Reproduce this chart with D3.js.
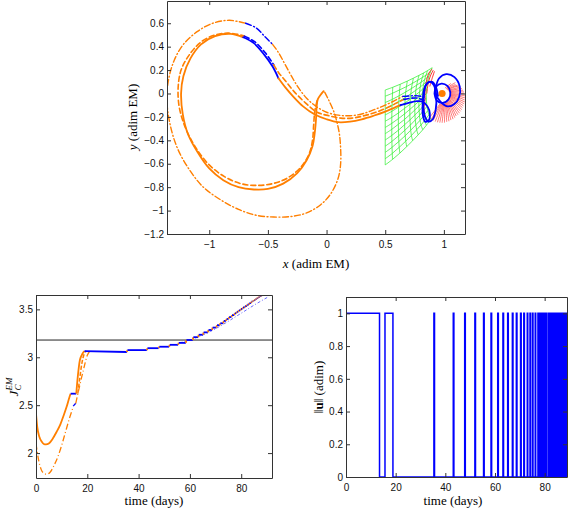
<!DOCTYPE html>
<html><head><meta charset="utf-8">
<script src="https://cdn.jsdelivr.net/npm/d3@7"></script>
<style>body{margin:0;background:#fff}svg{display:block}</style>
</head><body>
<svg id="chart" width="568" height="510"></svg>
<script>
// ---------- tick values ----------
const topXTicks = [-1, -0.5, 0, 0.5, 1];
const topYTicks = [-1.2, -1, -0.8, -0.6, -0.4, -0.2, 0, 0.2, 0.4, 0.6];
const dayTicks = [0, 20, 40, 60, 80];
const jTicks = [2, 2.5, 3, 3.5];
const uTicks = [0, 0.2, 0.4, 0.6, 0.8, 1];

// ---------- top plot: trajectories (x, y in adim EM) ----------
const solidThrust1 = [[-0.025,0.02],[-0.05,-0.01],[-0.075,-0.05],[-0.085,-0.12],[-0.09,-0.22],[-0.1,-0.33],[-0.12,-0.45],[-0.17,-0.57],[-0.25,-0.68],[-0.37,-0.77],[-0.5,-0.815],[-0.62,-0.82],[-0.75,-0.8],[-0.88,-0.74],[-1.0,-0.64],[-1.1,-0.5],[-1.18,-0.35],[-1.225,-0.18],[-1.24,0.0],[-1.22,0.15],[-1.16,0.3],[-1.07,0.42],[-0.95,0.49],[-0.82,0.51],[-0.71,0.48]];
const solidCoast1 = [[-0.71,0.48],[-0.62,0.43],[-0.53,0.33],[-0.46,0.23],[-0.41,0.13]];
const solidThrust2 = [[-0.41,0.13],[-0.35,0.05],[-0.28,-0.03],[-0.2,-0.11],[-0.1,-0.18],[0.0,-0.22],[0.1,-0.245],[0.2,-0.24],[0.3,-0.22],[0.4,-0.19],[0.5,-0.155],[0.58,-0.12],[0.63,-0.1]];
const solidCoast2 = [[0.63,-0.1],[0.7,-0.08],[0.77,-0.065],[0.82,-0.07],[0.86,-0.11],[0.88,-0.17],[0.87,-0.23],[0.84,-0.24],[0.82,-0.18],[0.82,-0.08],[0.83,0.03],[0.86,0.09],[0.9,0.1],[0.93,0.06],[0.95,-0.02]];

const dashThrust1 = [[-0.08,-0.06],[-0.1,-0.15],[-0.11,-0.27],[-0.12,-0.4],[-0.15,-0.52],[-0.22,-0.63],[-0.33,-0.72],[-0.46,-0.77],[-0.6,-0.785],[-0.73,-0.77],[-0.87,-0.71],[-1.0,-0.61],[-1.11,-0.47],[-1.2,-0.3],[-1.255,-0.12],[-1.265,0.05],[-1.24,0.2],[-1.17,0.33],[-1.07,0.44],[-0.95,0.5],[-0.82,0.515],[-0.7,0.49]];
const dashCoast1 = [[-0.7,0.49],[-0.61,0.44],[-0.52,0.345],[-0.45,0.245]];
const dashThrust2 = [[-0.45,0.245],[-0.41,0.18],[-0.36,0.12],[-0.28,0.02],[-0.18,-0.08],[-0.08,-0.16],[0.02,-0.19],[0.12,-0.21],[0.22,-0.21],[0.32,-0.19],[0.42,-0.16],[0.52,-0.12],[0.6,-0.08],[0.66,-0.05]];
const dashCoast2 = [[0.66,-0.05],[0.72,-0.04],[0.78,-0.04],[0.83,-0.06]];

const ddThrust1 = [[-0.015,0.01],[0.02,-0.06],[0.06,-0.15],[0.09,-0.25],[0.11,-0.35],[0.12,-0.47],[0.12,-0.6],[0.1,-0.72],[0.04,-0.85],[-0.05,-0.95],[-0.17,-1.02],[-0.3,-1.05],[-0.45,-1.055],[-0.6,-1.04],[-0.75,-0.99],[-0.9,-0.91],[-1.05,-0.8],[-1.17,-0.65],[-1.27,-0.47],[-1.33,-0.28],[-1.36,-0.08],[-1.35,0.1],[-1.3,0.28],[-1.22,0.42],[-1.1,0.53],[-0.97,0.6],[-0.83,0.625],[-0.69,0.6]];
const ddCoast1 = [[-0.69,0.6],[-0.6,0.56],[-0.52,0.48],[-0.46,0.42]];
const ddThrust2 = [[-0.46,0.42],[-0.41,0.35],[-0.36,0.26],[-0.3,0.15],[-0.24,0.05],[-0.17,-0.04],[-0.09,-0.11],[0.0,-0.16],[0.1,-0.185],[0.2,-0.19],[0.3,-0.175],[0.4,-0.14],[0.5,-0.1],[0.58,-0.06],[0.65,-0.025]];
const ddCoast2 = [[0.65,-0.025],[0.72,-0.02],[0.78,-0.02],[0.83,-0.03]];

const blueLoopLeft = [[0.83,-0.02],[0.845,0.07],[0.88,0.1],[0.915,0.07],[0.935,-0.03],[0.93,-0.14],[0.905,-0.22],[0.87,-0.24],[0.84,-0.2],[0.825,-0.11],[0.83,-0.02]];
const blueLoopRight = [[0.93,0.05],[0.96,0.13],[1.02,0.165],[1.09,0.14],[1.135,0.06],[1.13,-0.03],[1.09,-0.09],[1.03,-0.11],[0.97,-0.07],[0.93,0.0],[0.93,0.05]];
const blueLoopMoon = [[0.92,0.0],[0.935,0.06],[0.98,0.085],[1.03,0.065],[1.055,0.01],[1.04,-0.05],[0.99,-0.08],[0.94,-0.06],[0.92,0.0]];
const moonPoint = [0.985, 0.0];

// green mesh: rows of nodes (x, y)
const greenRows = [
  [[0.5,0.03],[0.564,0.053],[0.628,0.079],[0.688,0.106],[0.74,0.131],[0.788,0.155],[0.828,0.176],[0.86,0.195],[0.9,0.22]],
  [[0.5,-0.023],[0.562,0.002],[0.623,0.031],[0.681,0.059],[0.731,0.086],[0.777,0.113],[0.816,0.136],[0.847,0.156],[0.885,0.183]],
  [[0.5,-0.077],[0.56,-0.05],[0.619,-0.019],[0.675,0.013],[0.723,0.042],[0.768,0.071],[0.805,0.095],[0.835,0.118],[0.872,0.147]],
  [[0.5,-0.13],[0.558,-0.101],[0.616,-0.068],[0.671,-0.034],[0.718,-0.003],[0.761,0.028],[0.798,0.055],[0.827,0.079],[0.863,0.11]],
  [[0.5,-0.183],[0.557,-0.152],[0.614,-0.116],[0.668,-0.081],[0.714,-0.047],[0.757,-0.014],[0.793,0.014],[0.821,0.04],[0.857,0.073]],
  [[0.5,-0.237],[0.556,-0.204],[0.613,-0.166],[0.665,-0.127],[0.711,-0.092],[0.753,-0.056],[0.789,-0.026],[0.817,0.001],[0.852,0.037]],
  [[0.5,-0.29],[0.556,-0.255],[0.612,-0.215],[0.665,-0.174],[0.71,-0.136],[0.752,-0.099],[0.787,-0.067],[0.815,-0.038],[0.85,0.0]],
  [[0.5,-0.343],[0.556,-0.306],[0.612,-0.263],[0.665,-0.221],[0.71,-0.181],[0.752,-0.141],[0.787,-0.107],[0.815,-0.077],[0.85,-0.037]],
  [[0.5,-0.397],[0.556,-0.358],[0.613,-0.313],[0.665,-0.267],[0.711,-0.225],[0.753,-0.183],[0.789,-0.148],[0.817,-0.115],[0.852,-0.073]],
  [[0.5,-0.45],[0.557,-0.409],[0.614,-0.362],[0.667,-0.314],[0.714,-0.27],[0.756,-0.226],[0.792,-0.188],[0.82,-0.154],[0.856,-0.11]],
  [[0.5,-0.503],[0.558,-0.46],[0.616,-0.41],[0.67,-0.361],[0.717,-0.314],[0.761,-0.268],[0.797,-0.229],[0.826,-0.193],[0.862,-0.147]],
  [[0.5,-0.557],[0.56,-0.512],[0.619,-0.46],[0.675,-0.407],[0.723,-0.359],[0.768,-0.31],[0.805,-0.269],[0.835,-0.232],[0.872,-0.183]],
  [[0.5,-0.61],[0.562,-0.563],[0.625,-0.509],[0.683,-0.454],[0.734,-0.403],[0.781,-0.353],[0.82,-0.31],[0.851,-0.271],[0.89,-0.22]]
];

// red fan around the Moon: [start, middle, end]
const redRays = [
  [[1.009,0.046],[1.035,0.067],[1.06,0.086]],
  [[1.02,0.041],[1.062,0.072],[1.098,0.093]],
  [[1.025,0.037],[1.07,0.065],[1.10,0.076]],
  [[1.03,0.034],[1.077,0.057],[1.116,0.072]],
  [[1.034,0.03],[1.091,0.055],[1.132,0.065]],
  [[1.039,0.025],[1.093,0.043],[1.144,0.054]],
  [[1.042,0.02],[1.103,0.035],[1.154,0.042]],
  [[1.046,0.015],[1.107,0.024],[1.164,0.028]],
  [[1.048,0.01],[1.111,0.014],[1.172,0.013]],
  [[1.051,0.004],[1.113,0.003],[1.174,-0.003]],
  [[1.053,-0.002],[1.115,-0.009],[1.18,-0.02]],
  [[1.054,-0.008],[1.115,-0.02],[1.179,-0.037]],
  [[1.055,-0.014],[1.115,-0.031],[1.177,-0.054]],
  [[1.055,-0.02],[1.113,-0.043],[1.178,-0.072]],
  [[1.055,-0.026],[1.111,-0.054],[1.173,-0.088]],
  [[1.054,-0.032],[1.107,-0.064],[1.166,-0.105]],
  [[1.053,-0.038],[1.103,-0.075],[1.158,-0.12]],
  [[1.051,-0.044],[1.098,-0.085],[1.153,-0.138]],
  [[1.048,-0.05],[1.091,-0.095],[1.142,-0.152]],
  [[1.046,-0.055],[1.085,-0.104],[1.133,-0.168]],
  [[1.042,-0.06],[1.077,-0.112],[1.12,-0.181]],
  [[1.039,-0.065],[1.069,-0.12],[1.105,-0.192]],
  [[1.034,-0.069],[1.06,-0.126],[1.093,-0.206]],
  [[1.03,-0.074],[1.05,-0.133],[1.078,-0.219]],
  [[1.025,-0.077],[1.04,-0.138],[1.06,-0.227]],
  [[1.02,-0.081],[1.029,-0.142],[1.043,-0.237]],
  [[1.015,-0.083],[1.019,-0.146],[1.024,-0.242]],
  [[1.009,-0.086],[1.008,-0.148],[1.005,-0.249]],
  [[1.003,-0.088],[0.996,-0.15],[0.985,-0.25]],
  [[0.997,-0.089],[0.985,-0.15],[0.965,-0.249]],
  [[0.991,-0.09],[0.974,-0.15],[0.945,-0.246]],
  [[0.985,-0.09],[0.962,-0.148],[0.926,-0.24]],
  [[0.979,-0.09],[0.951,-0.146],[0.908,-0.231]],
  [[0.973,-0.089],[0.941,-0.142],[0.892,-0.219]],
  [[0.967,-0.088],[0.93,-0.138],[0.88,-0.202]]
];
const redBand = [
  [[0.9,0.21],[0.87,0.17],[0.85,0.1],[0.84,0.02],[0.84,-0.06]],
  [[0.91,0.2],[0.885,0.15],[0.865,0.08],[0.855,0.0]],
  [[0.92,0.19],[0.9,0.13],[0.88,0.06]],
  [[0.84,-0.06],[0.83,-0.13],[0.84,-0.2]]
];

// ---------- bottom-left: Jacobi constant vs time ----------
const jSolid1T = [0,0.5,1.3,2.2,3,3.9,5,6.5,8,9.5,10.6,11.9,13,13.5];
const jSolid1V = [2.41,2.27,2.17,2.12,2.095,2.09,2.1,2.15,2.22,2.3,2.38,2.48,2.58,2.62];
const jCoast1T = [13.5,15.7];
const jCoast1V = [2.62,2.62];
const jSolid2T = [15.7,16.3,17.1,17.8,18.4,18.9];
const jSolid2V = [2.62,2.8,2.97,3.02,3.05,3.065];
const jCoast2T = [18.9,35.4];
const jCoast2V = [3.065,3.055];
const jDash2T = [16.3,17.1,17.9,18.7,19.5];
const jDash2V = [2.62,2.79,2.94,3.03,3.065];
const jDDT = [0,1,2,3,4.2,5.5,7,8.5,10,11.5,13,14.5];
const jDDV = [2.1,1.93,1.83,1.79,1.78,1.8,1.87,1.96,2.08,2.22,2.36,2.48];
const jDDCoastT = [14.5,15.5];
const jDDCoastV = [2.49,2.52];
const jDD2T = [15.5,17,18.5,20,20.8];
const jDD2V = [2.52,2.7,2.87,3.02,3.06];
const jDDLateT = [56,62,68,74,80,86,90.5];
const jDDLateV = [3.15,3.2,3.27,3.36,3.46,3.56,3.63];
const jRefLevel = 3.18;

// ---------- control: pulses (days) and J after each pulse ----------
const uArcs = [[0,13.5],[15.7,18.9]];
const pulseOn  = [35.4,43.2,47.8,51.9,55.4,58.4,61.1,63.2,65.1,67.0,68.6,70.3,71.6,73.0,74.1,75.1,76.2,77.3,78.1,78.9,79.7,80.5,81.4,82.2,83.0,83.8,84.3,84.8,85.3,85.7,86.1,86.5,86.9,87.3,87.7,88.1,88.5,88.9,89.3,89.7];
const pulseLen = [0.25,0.25,0.25,0.25,0.25,0.25,0.25,0.25,0.25,0.25,0.25,0.25,0.25,0.2,0.2,0.2,0.2,0.2,0.2,0.2,0.2,0.2,0.2,0.2,0.2,0.2,0.2,0.2,0.2,0.2,0.2,0.2,0.2,0.2,0.2,0.2,0.2,0.2,0.2,0.2];
const jAfter   = [3.075,3.095,3.11,3.13,3.15,3.18,3.21,3.235,3.26,3.285,3.31,3.335,3.355,3.38,3.40,3.42,3.44,3.46,3.475,3.49,3.505,3.52,3.535,3.55,3.565,3.58,3.588,3.596,3.604,3.611,3.618,3.625,3.632,3.638,3.644,3.65,3.656,3.662,3.668,3.674];

// ---------- drawing ----------
const ORANGE = '#ff7f00', BLUE = '#0000ff', GREEN = '#22ee22', RED = '#ff1a1a';
const svg = d3.select('#chart');
const TICK_FONT = '"Liberation Sans", Arial, sans-serif';
const LABEL_FONT = '"Liberation Serif", "Times New Roman", serif';

function frame(g, x, y, xt, yt) {
  const [xa, xb] = x.range(); const [ya, yb] = y.range();
  const fmt = d3.format('~g');
  const style = s => { s.selectAll('.domain').attr('stroke', '#333').attr('stroke-width', 1);
    s.selectAll('.tick line').attr('stroke', '#333');
    s.selectAll('text').attr('font-family', TICK_FONT).attr('font-size', 10).attr('fill', '#111'); };
  g.append('g').attr('transform', `translate(0,${ya})`)
    .call(d3.axisBottom(x).tickValues(xt).tickFormat(fmt).tickSizeInner(-4).tickSizeOuter(0).tickPadding(7)).call(style);
  g.append('g').attr('transform', `translate(0,${yb})`)
    .call(d3.axisTop(x).tickValues(xt).tickFormat('').tickSizeInner(-4).tickSizeOuter(0)).call(style);
  g.append('g').attr('transform', `translate(${xa},0)`)
    .call(d3.axisLeft(y).tickValues(yt).tickFormat(fmt).tickSizeInner(-4).tickSizeOuter(0).tickPadding(3)).call(style);
  g.append('g').attr('transform', `translate(${xb},0)`)
    .call(d3.axisRight(y).tickValues(yt).tickFormat('').tickSizeInner(-4).tickSizeOuter(0)).call(style);
}
function clip(id, x, y) {
  const [xa, xb] = x.range(); const [ya, yb] = y.range();
  svg.append('clipPath').attr('id', id).append('rect').attr('x', xa).attr('y', yb).attr('width', xb - xa).attr('height', ya - yb);
  return svg.append('g').attr('clip-path', `url(#${id})`);
}

// ===== top plot =====
const xT = d3.scaleLinear().domain([-1.36, 1.18]).range([167, 465]);
const yT = d3.scaleLinear().domain([-1.2, 0.79]).range([234, 1]);
const gT = clip('clipTop', xT, yT);
const lineT = d3.line().x(d => xT(d[0])).y(d => yT(d[1])).curve(d3.curveCatmullRom.alpha(0.5));

greenRows.forEach(r => gT.append('path').attr('d', lineT(r)).attr('fill', 'none').attr('stroke', GREEN).attr('stroke-width', 0.7));
for (let c = 0; c < greenRows[0].length; c++) {
  const col = greenRows.map(r => r[c]);
  gT.append('path').attr('d', lineT(col)).attr('fill', 'none').attr('stroke', GREEN).attr('stroke-width', 0.7);
}
redRays.forEach(r => gT.append('path').attr('d', lineT(r)).attr('fill', 'none').attr('stroke', RED).attr('stroke-width', 0.6));
redBand.forEach(r => gT.append('path').attr('d', lineT(r)).attr('fill', 'none').attr('stroke', RED).attr('stroke-width', 0.9));

function traj(data, color, width, dash) {
  const p = gT.append('path').attr('d', lineT(data)).attr('fill', 'none').attr('stroke', color)
    .attr('stroke-width', width).attr('stroke-linecap', 'round').attr('stroke-linejoin', 'round');
  if (dash) p.attr('stroke-dasharray', dash);
}
const DD = '6,2.5,1,2.5';
traj(ddThrust1, ORANGE, 1.4, DD); traj(ddCoast1, BLUE, 1.4, DD);
traj(ddThrust2, ORANGE, 1.4, DD); traj(ddCoast2, BLUE, 1.4, DD);
traj(dashThrust1, ORANGE, 1.6, '5,3'); traj(dashCoast1, BLUE, 1.6, '5,3');
traj(dashThrust2, ORANGE, 1.6, '5,3'); traj(dashCoast2, BLUE, 1.6, '5,3');
traj(solidThrust1, ORANGE, 1.8); traj(solidCoast1, BLUE, 1.8);
traj(solidThrust2, ORANGE, 1.8); traj(solidCoast2, BLUE, 1.8);
traj(blueLoopLeft, BLUE, 1.8); traj(blueLoopRight, BLUE, 1.8); traj(blueLoopMoon, BLUE, 1.8);
gT.append('circle').attr('cx', xT(moonPoint[0])).attr('cy', yT(moonPoint[1])).attr('r', 3.5).attr('fill', ORANGE);

const fT = svg.append('g'); frame(fT, xT, yT, topXTicks, topYTicks);
svg.append('text').attr('x', 316).attr('y', 268).attr('text-anchor', 'middle').attr('font-family', LABEL_FONT).attr('font-size', 13)
  .call(t => { t.append('tspan').attr('font-style', 'italic').text('x'); t.append('tspan').text(' (adim EM)'); });
svg.append('text').attr('transform', 'translate(137,117) rotate(-90)').attr('text-anchor', 'middle').attr('font-family', LABEL_FONT).attr('font-size', 13)
  .call(t => { t.append('tspan').attr('font-style', 'italic').text('y'); t.append('tspan').text(' (adim EM)'); });

// ===== bottom-left: J =====
const xJ = d3.scaleLinear().domain([0, 92]).range([36, 272]);
const yJ = d3.scaleLinear().domain([1.74, 3.65]).range([478, 295]);
const gJ = clip('clipJ', xJ, yJ);
const lineJ = d3.line().x(d => xJ(d[0])).y(d => yJ(d[1])).curve(d3.curveMonotoneX);
const zip = (a, b) => a.map((v, i) => [v, b[i]]);
function jl(t, v, color, w, dash) {
  const p = gJ.append('path').attr('d', lineJ(zip(t, v))).attr('fill', 'none').attr('stroke', color).attr('stroke-width', w);
  if (dash) p.attr('stroke-dasharray', dash);
}
gJ.append('line').attr('x1', xJ(0)).attr('x2', xJ(92)).attr('y1', yJ(jRefLevel)).attr('y2', yJ(jRefLevel)).attr('stroke', '#222').attr('stroke-width', 1);
jl(jDDLateT, jDDLateV, '#6a6aff', 1, '3,2,1,2');
jl(jDDT, jDDV, ORANGE, 1.3, DD); jl(jDDCoastT, jDDCoastV, BLUE, 1.3, DD); jl(jDD2T, jDD2V, ORANGE, 1.3, DD);
jl(jDash2T, jDash2V, ORANGE, 1.5, '4,2');
jl(jSolid1T, jSolid1V, ORANGE, 1.8); jl(jCoast1T, jCoast1V, BLUE, 1.8); jl(jSolid2T, jSolid2V, ORANGE, 1.8);
jl(jCoast2T, jCoast2V, BLUE, 1.8);
let prevOff = jCoast2T[1], prevJ = jCoast2V[1];
pulseOn.forEach((on, i) => {
  const off = on + pulseLen[i];
  if (i > 0) jl([prevOff, on], [prevJ, prevJ], BLUE, 1.8);
  jl([on, off], [prevJ, jAfter[i]], ORANGE, 1.8);
  prevOff = off; prevJ = jAfter[i];
});
const fJ = svg.append('g'); frame(fJ, xJ, yJ, dayTicks, jTicks);
svg.append('text').attr('x', xJ(46)).attr('y', 505).attr('text-anchor', 'middle').attr('font-family', LABEL_FONT).attr('font-size', 13).text('time (days)');
svg.append('text').attr('transform', 'translate(18,387) rotate(-90)').attr('text-anchor', 'middle').attr('font-family', LABEL_FONT).attr('font-size', 13)
  .call(t => { t.append('tspan').attr('font-style', 'italic').text('J');
    t.append('tspan').attr('font-style', 'italic').attr('font-size', 9).attr('dy', 3).text('C');
    t.append('tspan').attr('font-style', 'italic').attr('font-size', 9).attr('dx', -6).attr('dy', -9).text('EM'); });

// ===== bottom-right: ||u|| =====
const xU = d3.scaleLinear().domain([0, 89]).range([346, 567]);
const yU = d3.scaleLinear().domain([0, 1.1]).range([477, 297]);
const gU = clip('clipU', xU, yU);
const stepPts = [];
uArcs.forEach(([a, b]) => { if (a > 0) stepPts.push([a, 0]); stepPts.push([a, 1], [b, 1], [b, 0]); });
pulseOn.forEach((on, i) => stepPts.push([on, 0], [on, 1], [on + pulseLen[i], 1], [on + pulseLen[i], 0]));
const lineU = d3.line().x(d => xU(d[0])).y(d => yU(d[1]));
gU.append('path').attr('d', lineU(stepPts)).attr('fill', 'none').attr('stroke', BLUE).attr('stroke-width', 1.5);
const fU = svg.append('g'); frame(fU, xU, yU, dayTicks, uTicks);
svg.append('text').attr('x', 453).attr('y', 505).attr('text-anchor', 'middle').attr('font-family', LABEL_FONT).attr('font-size', 13).text('time (days)');
svg.append('text').attr('transform', 'translate(323,387) rotate(-90)').attr('text-anchor', 'middle').attr('font-family', LABEL_FONT).attr('font-size', 13)
  .call(t => { t.append('tspan').text('‖');
    t.append('tspan').attr('font-weight', 'bold').text('u');
    t.append('tspan').text('‖ (adim)'); });
</script>
</body></html>
